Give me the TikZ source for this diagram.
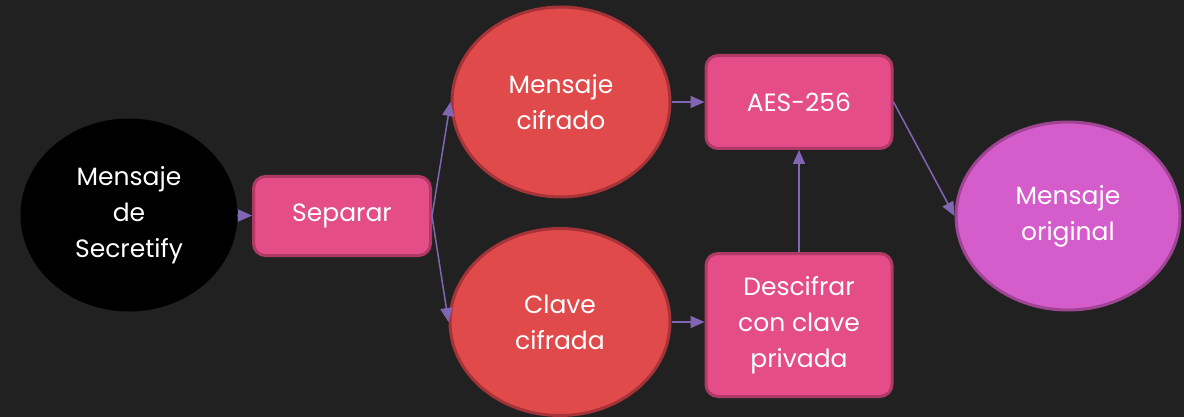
\documentclass[tikz,border=0pt]{standalone}
\usepackage{fontspec}
\setmainfont{Poppins}
\usetikzlibrary{shapes.geometric,arrows.meta}
\definecolor{fondo}{HTML}{212121}
\definecolor{rojo}{HTML}{E04A4A}
\definecolor{rojoborde}{HTML}{A53338}
\definecolor{rosa}{HTML}{E44D88}
\definecolor{rosaborde}{HTML}{B03A66}
\definecolor{malva}{HTML}{D55CCB}
\definecolor{malvaborde}{HTML}{A04595}
\definecolor{flecha}{HTML}{8166B4}

\begin{document}
\begin{tikzpicture}[x=1pt,y=-1pt]
\tikzstyle{lien}=[-{Triangle[length=14pt,width=12pt]},flecha,line width=1.5pt]
\tikzset{etapa/.style={ellipse,draw=#1borde,line width=3pt,fill=#1,text=white,
  inner sep=0pt,align=center,font=\fontsize{25}{36}\selectfont},
etapa/.default={rojo},
caja/.style={draw=rosaborde,fill=rosa,line width=3pt,rounded corners=12pt,text=white,
  inner sep=0pt,align=center,font=\fontsize{25}{36}\selectfont}}
\fill[fondo] (0,0) rectangle (1184,417);
\useasboundingbox (0,0) rectangle (1184,417);

\node[etapa,fill=black,draw=black,minimum width=214pt,minimum height=190pt] (M) at (129,215) {Mensaje\\de\\Secretify};
\node[caja,minimum width=177pt,minimum height=79pt] (S) at (342,216) {Separar};
\node[etapa,minimum width=218pt,minimum height=190pt] (MC) at (561,102) {Mensaje\\cifrado};
\node[etapa,minimum width=220pt,minimum height=187pt] (CC) at (560,322) {Clave\\cifrada};
\node[caja,minimum width=186pt,minimum height=93pt] (AES) at (799,102) {AES-256};
\node[caja,minimum width=186pt,minimum height=143pt] (D) at (799,325) {Descifrar\\con clave\\privada};
\node[etapa=malva,minimum width=224pt,minimum height=188pt] (MO) at (1068,216) {Mensaje\\original};

\draw[lien] (M) -- (S);
\draw[lien] (S.east) -- (MC.west);
\draw[lien] (S.east) -- (CC.west);
\draw[lien] (MC) -- (AES);
\draw[lien] (CC.east) -- (CC.east -| D.west);
\draw[lien] (D) -- (AES);
\draw[lien] (AES.east) -- (MO.west);

\end{tikzpicture}
\end{document}
